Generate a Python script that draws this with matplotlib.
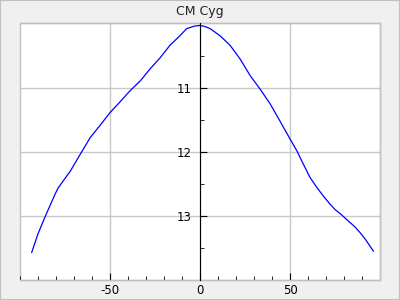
import matplotlib
matplotlib.use('Agg')
import matplotlib.pyplot as plt
from matplotlib.ticker import MultipleLocator
from matplotlib.patches import Rectangle

# light curve of CM Cyg, magnitude vs phase
phase = [-93.5, -90, -86, -80.5, -78.7, -72, -65.7, -61, -55, -50, -45, -38.9,
         -33, -27.8, -22, -16.7, -11.1, -7.4, -3, 0, 3, 5.6, 11.1, 16.7, 22.2,
         27.8, 33.3, 38.9, 44.4, 50, 53.7, 57, 61.1, 65, 68.5, 72, 75, 78.5,
         82.4, 86, 88.9, 92, 96.3]
mag = [13.57, 13.28, 13.01, 12.66, 12.56, 12.30, 12.00, 11.78, 11.57, 11.39,
       11.24, 11.05, 10.89, 10.71, 10.53, 10.34, 10.19, 10.08, 10.04, 10.03,
       10.05, 10.08, 10.19, 10.34, 10.55, 10.81, 11.02, 11.25, 11.52, 11.80,
       11.98, 12.17, 12.40, 12.56, 12.69, 12.81, 12.90, 12.98, 13.08, 13.17,
       13.26, 13.37, 13.55]

xticks = [-50, 0, 50]
xlabels = ['-50', '0', '50']
yticks = [11, 12, 13]

fig = plt.figure(figsize=(4, 3), dpi=100, facecolor='#f0f0f0')
fig.patches.append(Rectangle((0, 0), 1, 1, transform=fig.transFigure,
                             facecolor='none', edgecolor='#c0c0c0', lw=1.5))
ax = fig.add_axes([0.05, 0.0667, 0.9, 0.855])

ax.plot(phase, mag, color='blue', lw=0.9)

ax.set_xlim(-100, 100)
ax.set_ylim(14, 10)
ax.set_title('CM Cyg', fontsize=9, color='#222222', pad=6)

ax.set_xticks(xticks)
ax.set_xticklabels(xlabels)
ax.set_yticks(yticks)
ax.xaxis.set_minor_locator(MultipleLocator(10))
ax.yaxis.set_minor_locator(MultipleLocator(0.5))
ax.grid(True, which='major', color='#c8c8c8', lw=1)

for s in ['top', 'right', 'bottom']:
    ax.spines[s].set_color('#c0c0c0')
    ax.spines[s].set_linewidth(1)
ax.patch.set_edgecolor('#c0c0c0')
ax.patch.set_linewidth(1)
ax.spines['left'].set_position(('data', 0))
ax.spines['left'].set_color('black')
ax.spines['left'].set_zorder(3)

ax.tick_params(axis='x', which='both', direction='in', labelsize=8.5, pad=3,
               color='black')
ax.tick_params(axis='x', which='major', length=5)
ax.tick_params(axis='x', which='minor', length=3)
ax.tick_params(axis='y', which='both', direction='in', labelsize=8.5, pad=6)
ax.tick_params(axis='y', which='major', length=5)
ax.tick_params(axis='y', which='minor', length=3)

fig.savefig('out.png', dpi=100, facecolor=fig.get_facecolor())
